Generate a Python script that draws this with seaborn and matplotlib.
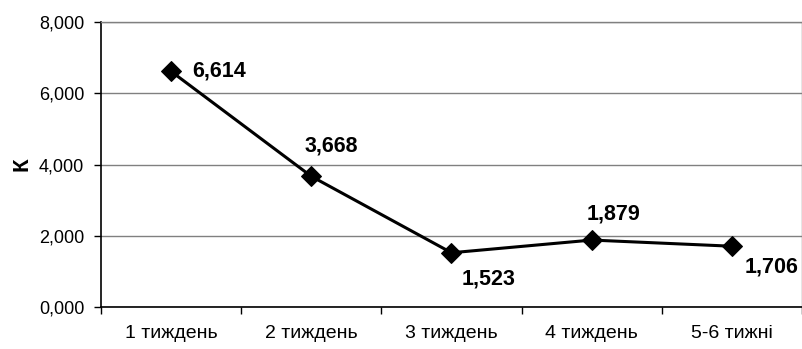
import matplotlib
matplotlib.use("Agg")
import matplotlib.pyplot as plt
import seaborn as sns
import pandas as pd
import numpy as np
from matplotlib.ticker import FuncFormatter, FixedLocator

weeks = ["1 тиждень", "2 тиждень", "3 тиждень", "4 тиждень", "5-6 тижні"]
k_values = [6.614, 3.668, 1.523, 1.879, 1.706]
y_ticks = [0, 2, 4, 6, 8]

# label offsets in points (dx, dy) per point
label_offsets = [(15, 0), (-5, 22), (7, -19), (-4, 19), (9, -15)]

sns.set_theme(style="white")
plt.rcParams["font.family"] = ["Liberation Sans", "DejaVu Sans"]

df = pd.DataFrame({"pos": np.arange(len(weeks)), "K": k_values})

fig = plt.figure(figsize=(8.03, 3.49), dpi=100)
ax = fig.add_axes([101 / 803, 1 - 307 / 349, 701 / 803, 285 / 349])

sns.lineplot(data=df, x="pos", y="K", ax=ax, color="black", linewidth=2.2,
             marker="D", markersize=10.5, markeredgecolor="black",
             markerfacecolor="black")

ax.set_xlim(-0.5, len(weeks) - 0.5)
ax.set_ylim(0, 8)
ax.set_yticks(y_ticks)
ax.yaxis.set_major_formatter(FuncFormatter(lambda v, p: f"{v:.3f}".replace(".", ",")))
ax.set_xticks(np.arange(len(weeks)))
ax.set_xticklabels(weeks)
ax.xaxis.set_minor_locator(FixedLocator(np.arange(-0.5, len(weeks), 1.0)))
ax.tick_params(axis="x", which="major", length=0, pad=13, labelsize=14, colors="black")
ax.tick_params(axis="x", which="minor", length=5, width=1, color="black", direction="out", bottom=True)
ax.tick_params(axis="y", length=5, width=1, color="black", direction="out", left=True,
               labelsize=13, colors="black", pad=7)

ax.grid(axis="y", color="#808080", linewidth=1)
ax.set_axisbelow(True)
for side in ["top", "right"]:
    ax.spines[side].set_color("#808080")
    ax.spines[side].set_linewidth(1)
for side in ["left", "bottom"]:
    ax.spines[side].set_color("black")
    ax.spines[side].set_linewidth(1.2)

ax.set_xlabel("")
ax.set_ylabel("К", fontsize=16, fontweight="bold", labelpad=5, color="black")

for i, v in enumerate(k_values):
    dx, dy = label_offsets[i]
    ax.annotate(f"{v:.3f}".replace(".", ","), (i, v), xytext=(dx, dy),
                textcoords="offset points", ha="left", va="center",
                fontsize=15.5, fontweight="bold", color="black")

fig.savefig("out.png", dpi=100, facecolor="white")
